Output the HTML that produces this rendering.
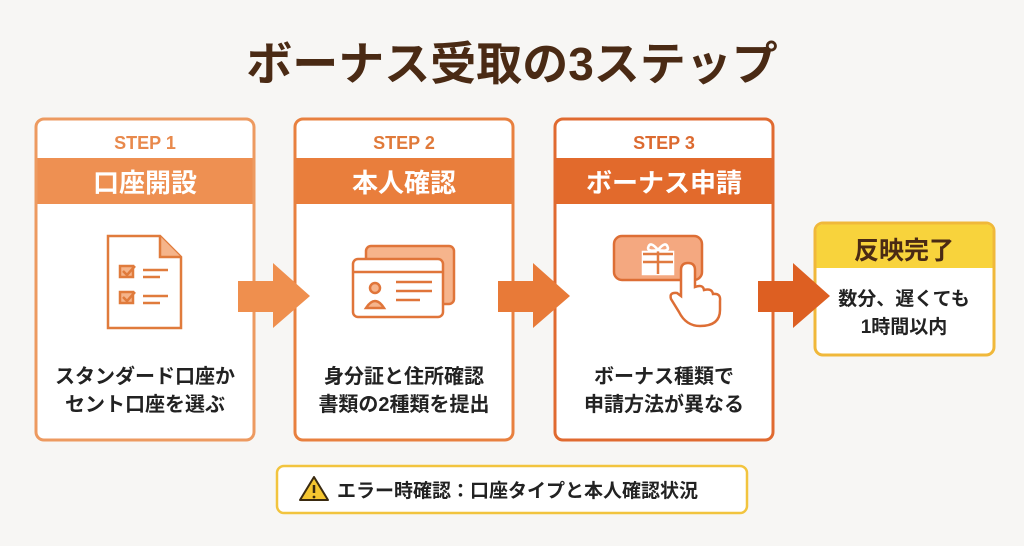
<!DOCTYPE html>
<html><head><meta charset="utf-8"><style>
body{margin:0;width:1024px;height:541px;background:#f7f6f4;overflow:hidden;font-family:"Liberation Sans","Noto Sans CJK JP",sans-serif}
</style></head><body>
<svg width="1024" height="541" viewBox="0 0 1024 541" xmlns="http://www.w3.org/2000/svg" font-family="Liberation Sans, Noto Sans CJK JP, sans-serif">
<text x="512" y="80" text-anchor="middle" font-size="46" font-weight="bold" fill="#4a2a14">ボーナス受取の3ステップ</text>

<!-- card 1 -->
<rect x="36" y="119" width="218" height="321" rx="8" fill="#fff" stroke="#ed9a60" stroke-width="3"/>
<rect x="37.5" y="158" width="215" height="46" fill="#ee9052"/>
<text x="145" y="149" text-anchor="middle" font-size="18" font-weight="bold" fill="#e8894c">STEP 1</text>
<text x="145" y="192" text-anchor="middle" font-size="26" font-weight="bold" fill="#fff">口座開設</text>
<g stroke="#e07b3c" stroke-width="2.5" fill="none">
<path d="M108 236 H160 L181 257 V328 H108 Z"/>
<path d="M160 236 V257 H181" fill="#f5b48a"/>
<rect x="120" y="266" width="13" height="11" fill="#f5b48a"/><rect x="120" y="292" width="13" height="11" fill="#f5b48a"/>
<path d="M123 271 l4 4 l8 -9 M123 297 l4 4 l8 -9"/>
<path d="M143 270 H168 M143 277 H160 M143 296 H168 M143 303 H160"/>
</g>
<text x="145" y="383" text-anchor="middle" font-size="20" font-weight="bold" fill="#222">スタンダード口座か</text>
<text x="145" y="411" text-anchor="middle" font-size="20" font-weight="bold" fill="#222">セント口座を選ぶ</text>

<!-- card 2 -->
<rect x="295" y="119" width="218" height="321" rx="8" fill="#fff" stroke="#e8803f" stroke-width="3"/>
<rect x="296.5" y="158" width="215" height="46" fill="#e97e3c"/>
<text x="404" y="149" text-anchor="middle" font-size="18" font-weight="bold" fill="#e07a3a">STEP 2</text>
<text x="404" y="192" text-anchor="middle" font-size="26" font-weight="bold" fill="#fff">本人確認</text>
<g stroke="#e0753a" stroke-width="2.5">
<rect x="366" y="246" width="88" height="58" rx="5" fill="#f6b48c"/>
<rect x="353" y="259" width="90" height="58" rx="5" fill="#fff"/>
<path d="M353 272 H443" fill="none"/>
<circle cx="375" cy="288" r="5" fill="#f6b48c"/>
<path d="M366 308 q9 -14 18 0 Z" fill="#f6b48c"/>
<path d="M396 282 H432 M396 291 H432 M396 300 H420" fill="none"/>
</g>
<text x="404" y="383" text-anchor="middle" font-size="20" font-weight="bold" fill="#222">身分証と住所確認</text>
<text x="404" y="411" text-anchor="middle" font-size="20" font-weight="bold" fill="#222">書類の2種類を提出</text>

<!-- card 3 -->
<rect x="555" y="119" width="218" height="321" rx="8" fill="#fff" stroke="#e06a30" stroke-width="3"/>
<rect x="556.5" y="158" width="215" height="46" fill="#e26a2c"/>
<text x="664" y="149" text-anchor="middle" font-size="18" font-weight="bold" fill="#dc6a30">STEP 3</text>
<text x="664" y="192" text-anchor="middle" font-size="26" font-weight="bold" fill="#fff">ボーナス申請</text>
<g stroke="#dd6e35" stroke-width="2.5">
<rect x="614" y="236" width="88" height="44" rx="8" fill="#f4a880"/>
<rect x="643" y="252" width="30" height="22" fill="#fff" stroke="#fff"/>
<path d="M643 254 H673 M658 250 V274 M643 262 H673" stroke="#e07a40" fill="none"/>
<path d="M658 250 q-8 -10 -10 -2 q0 4 10 2 q8 -10 10 -2 q0 4 -10 2" fill="none" stroke="#fff"/>
<path d="M681 296 V270 q0 -7 7 -7 q7 0 7 7 V287 q8 -3 9 3 q8 -2 9 4 q8 -1 7 7 V310 q0 16 -20 16 q-14 0 -21 -14 l-8 -13 q-2 -7 6 -6 Z" fill="#fff"/>
</g>
<text x="664" y="383" text-anchor="middle" font-size="20" font-weight="bold" fill="#222">ボーナス種類で</text>
<text x="664" y="411" text-anchor="middle" font-size="20" font-weight="bold" fill="#222">申請方法が異なる</text>

<!-- final -->
<rect x="815" y="223" width="179" height="132" rx="8" fill="#fff" stroke="#f0b83a" stroke-width="3"/>
<path d="M816.5 268 V231 q0 -6.5 6.5 -6.5 H986 q6.5 0 6.5 6.5 V268 Z" fill="#f8d33c"/>
<text x="904" y="259" text-anchor="middle" font-size="25" font-weight="bold" fill="#4a2a14">反映完了</text>
<text x="904" y="305" text-anchor="middle" font-size="19" font-weight="bold" fill="#222">数分、遅くても</text>
<text x="904" y="333" text-anchor="middle" font-size="19" font-weight="bold" fill="#222">1時間以内</text>

<!-- arrows on top -->
<path d="M238 281 H273 V263 L310 296 L273 328 V312 H238 Z" fill="#ef8f4e"/>
<path d="M498 281 H533 V263 L570 296 L533 328 V312 H498 Z" fill="#e87a38"/>
<path d="M758 281 H793 V263 L830 296 L793 328 V312 H758 Z" fill="#dd5f22"/>

<!-- note -->
<rect x="277" y="466" width="470" height="47" rx="7" fill="#fff" stroke="#f2c43e" stroke-width="2.5"/>
<path d="M314 477 L328 500 H300 Z" fill="#f5c630" stroke="#3a2a10" stroke-width="2" stroke-linejoin="round"/>
<path d="M314 485 V493" stroke="#3a2a10" stroke-width="2.5"/><circle cx="314" cy="497" r="1.4" fill="#3a2a10"/>
<text x="337" y="497" font-size="19" font-weight="bold" fill="#222">エラー時確認：口座タイプと本人確認状況</text>
</svg>
</body></html>
